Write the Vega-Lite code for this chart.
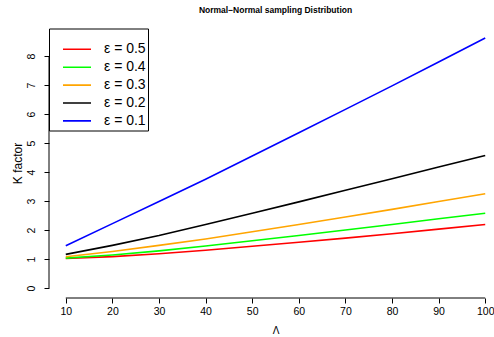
{
  "$schema": "https://vega.github.io/schema/vega-lite/v6.json",
  "width": 453,
  "height": 270,
  "autosize": {"type": "none"},
  "padding": {"left": 49, "top": 28, "right": 0, "bottom": 39},
  "background": "white",
  "title": {"text": "Normal−Normal sampling Distribution", "fontSize": 8.5, "fontWeight": "bold", "font": "Liberation Sans", "anchor": "middle", "baseline": "alphabetic", "offset": 6.4, "color": "black"},
  "config": {"view": {"stroke": null}, "font": "Liberation Sans"},
  "data": {"values": [
    {"L": 10, "K": 1.02, "eps": "ε = 0.5"}, {"L": 20, "K": 1.08, "eps": "ε = 0.5"}, {"L": 30, "K": 1.18, "eps": "ε = 0.5"}, {"L": 40, "K": 1.30, "eps": "ε = 0.5"}, {"L": 50, "K": 1.44, "eps": "ε = 0.5"}, {"L": 60, "K": 1.58, "eps": "ε = 0.5"}, {"L": 70, "K": 1.72, "eps": "ε = 0.5"}, {"L": 80, "K": 1.87, "eps": "ε = 0.5"}, {"L": 90, "K": 2.03, "eps": "ε = 0.5"}, {"L": 100, "K": 2.19, "eps": "ε = 0.5"},
    {"L": 10, "K": 1.03, "eps": "ε = 0.4"}, {"L": 20, "K": 1.14, "eps": "ε = 0.4"}, {"L": 30, "K": 1.28, "eps": "ε = 0.4"}, {"L": 40, "K": 1.45, "eps": "ε = 0.4"}, {"L": 50, "K": 1.63, "eps": "ε = 0.4"}, {"L": 60, "K": 1.81, "eps": "ε = 0.4"}, {"L": 70, "K": 2.00, "eps": "ε = 0.4"}, {"L": 80, "K": 2.19, "eps": "ε = 0.4"}, {"L": 90, "K": 2.39, "eps": "ε = 0.4"}, {"L": 100, "K": 2.58, "eps": "ε = 0.4"},
    {"L": 10, "K": 1.08, "eps": "ε = 0.3"}, {"L": 20, "K": 1.26, "eps": "ε = 0.3"}, {"L": 30, "K": 1.47, "eps": "ε = 0.3"}, {"L": 40, "K": 1.69, "eps": "ε = 0.3"}, {"L": 50, "K": 1.94, "eps": "ε = 0.3"}, {"L": 60, "K": 2.19, "eps": "ε = 0.3"}, {"L": 70, "K": 2.45, "eps": "ε = 0.3"}, {"L": 80, "K": 2.71, "eps": "ε = 0.3"}, {"L": 90, "K": 2.98, "eps": "ε = 0.3"}, {"L": 100, "K": 3.25, "eps": "ε = 0.3"},
    {"L": 10, "K": 1.16, "eps": "ε = 0.2"}, {"L": 20, "K": 1.47, "eps": "ε = 0.2"}, {"L": 30, "K": 1.81, "eps": "ε = 0.2"}, {"L": 40, "K": 2.19, "eps": "ε = 0.2"}, {"L": 50, "K": 2.58, "eps": "ε = 0.2"}, {"L": 60, "K": 2.97, "eps": "ε = 0.2"}, {"L": 70, "K": 3.37, "eps": "ε = 0.2"}, {"L": 80, "K": 3.77, "eps": "ε = 0.2"}, {"L": 90, "K": 4.17, "eps": "ε = 0.2"}, {"L": 100, "K": 4.57, "eps": "ε = 0.2"},
    {"L": 10, "K": 1.46, "eps": "ε = 0.1"}, {"L": 20, "K": 2.22, "eps": "ε = 0.1"}, {"L": 30, "K": 2.98, "eps": "ε = 0.1"}, {"L": 40, "K": 3.75, "eps": "ε = 0.1"}, {"L": 50, "K": 4.55, "eps": "ε = 0.1"}, {"L": 60, "K": 5.35, "eps": "ε = 0.1"}, {"L": 70, "K": 6.16, "eps": "ε = 0.1"}, {"L": 80, "K": 6.97, "eps": "ε = 0.1"}, {"L": 90, "K": 7.79, "eps": "ε = 0.1"}, {"L": 100, "K": 8.62, "eps": "ε = 0.1"}
  ]},
  "layer": [
    {
      "mark": {"type": "line", "strokeWidth": 1.6, "clip": false},
      "encoding": {
        "x": {"field": "L", "type": "quantitative",
          "scale": {"domain": [6.4, 103.6], "nice": false, "zero": false},
          "axis": {"values": [10, 20, 30, 40, 50, 60, 70, 80, 90, 100], "domain": false, "grid": false, "tickSize": 5, "tickColor": "black", "labelFontSize": 10.5, "labelColor": "black", "labelPadding": 3.5, "labelFlush": false, "labelOverlap": false, "title": "Λ", "titleFontSize": 10, "titleFontWeight": "normal", "titleColor": "black", "titlePadding": 8.5}},
        "y": {"field": "K", "type": "quantitative",
          "scale": {"domain": [-0.345, 8.965], "nice": false, "zero": false},
          "axis": {"values": [0, 1, 2, 3, 4, 5, 6, 7, 8], "domain": false, "grid": false, "tickSize": 5, "tickColor": "black", "labelAngle": 270, "labelAlign": "center", "labelBaseline": "bottom", "labelFontSize": 10.5, "labelColor": "black", "labelPadding": 8, "labelFlush": false, "labelOverlap": false, "title": "K factor", "titleFontSize": 12, "titleFontWeight": "normal", "titleColor": "black", "titlePadding": 1.5}},
        "color": {"field": "eps", "type": "nominal",
          "scale": {"domain": ["ε = 0.5", "ε = 0.4", "ε = 0.3", "ε = 0.2", "ε = 0.1"], "range": ["#FF0000", "#00FF00", "#FFA500", "#000000", "#0000FF"]},
          "legend": {"orient": "none", "legendX": 0, "legendY": 0.5, "title": " ", "titleFontSize": 6, "titlePadding": 5.8, "symbolType": "stroke", "symbolSize": 784, "symbolStrokeWidth": 1.6, "symbolOffset": 11, "labelOffset": 12, "labelFontSize": 14, "labelColor": "black", "labelExpr": "datum.label + '\u2002\u2009'", "labelLimit": 300, "clipHeight": 14, "rowPadding": 3.9, "padding": 2, "strokeColor": "black", "fillColor": "white"}}
      }
    },
    {
      "data": {"values": [{}]},
      "mark": {"type": "rule", "color": "black", "strokeWidth": 1},
      "encoding": {
        "x": {"datum": 10, "type": "quantitative",
          "axis": {"values": [10, 20, 30, 40, 50, 60, 70, 80, 90, 100], "domain": false, "grid": false, "tickSize": 5, "tickColor": "black", "labelFontSize": 10.5, "labelColor": "black", "labelPadding": 3.5, "labelFlush": false, "labelOverlap": false, "title": "Λ", "titleFontSize": 10, "titleFontWeight": "normal", "titleColor": "black", "titlePadding": 8.5}},
        "x2": {"datum": 100},
        "y": {"datum": -0.345, "type": "quantitative",
          "axis": {"values": [0, 1, 2, 3, 4, 5, 6, 7, 8], "domain": false, "grid": false, "tickSize": 5, "tickColor": "black", "labelAngle": 270, "labelAlign": "center", "labelBaseline": "bottom", "labelFontSize": 10.5, "labelColor": "black", "labelPadding": 8, "labelFlush": false, "labelOverlap": false, "title": "K factor", "titleFontSize": 12, "titleFontWeight": "normal", "titleColor": "black", "titlePadding": 1.5}}
      }
    },
    {
      "data": {"values": [{}]},
      "mark": {"type": "rule", "color": "black", "strokeWidth": 1},
      "encoding": {
        "x": {"datum": 6.4, "type": "quantitative",
          "axis": {"values": [10, 20, 30, 40, 50, 60, 70, 80, 90, 100], "domain": false, "grid": false, "tickSize": 5, "tickColor": "black", "labelFontSize": 10.5, "labelColor": "black", "labelPadding": 3.5, "labelFlush": false, "labelOverlap": false, "title": "Λ", "titleFontSize": 10, "titleFontWeight": "normal", "titleColor": "black", "titlePadding": 8.5}},
        "y": {"datum": 0, "type": "quantitative",
          "axis": {"values": [0, 1, 2, 3, 4, 5, 6, 7, 8], "domain": false, "grid": false, "tickSize": 5, "tickColor": "black", "labelAngle": 270, "labelAlign": "center", "labelBaseline": "bottom", "labelFontSize": 10.5, "labelColor": "black", "labelPadding": 8, "labelFlush": false, "labelOverlap": false, "title": "K factor", "titleFontSize": 12, "titleFontWeight": "normal", "titleColor": "black", "titlePadding": 1.5}},
        "y2": {"datum": 8}
      }
    }
  ]
}
